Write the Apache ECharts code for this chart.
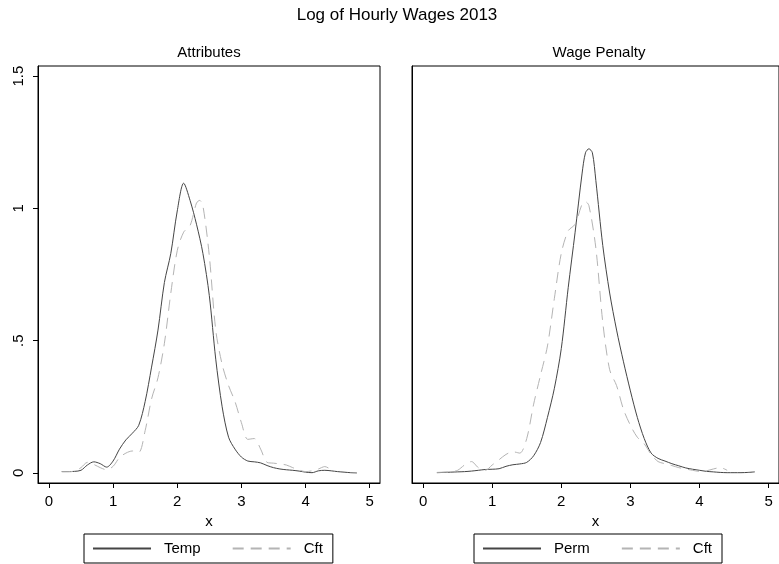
<!DOCTYPE html>
<html>
<head>
<meta charset="utf-8">
<script src="https://cdn.jsdelivr.net/npm/echarts@6/dist/echarts.min.js"></script>
<style>
  html, body { margin: 0; padding: 0; background: #fff; }
  #chart { width: 779px; height: 564px; }
</style>
</head>
<body>
<div id="chart"></div>
<script>
// Kernel density estimates of log hourly wages, 2013

// Left panel: Attributes
const tempX = [0.2,0.3,0.4,0.5,0.6,0.7,0.8,0.9,1.0,1.1,1.2,1.3,1.4,1.5,1.6,1.7,1.8,1.9,2.0,2.1,2.2,2.3,2.4,2.5,2.6,2.7,2.8,2.9,3.0,3.1,3.2,3.3,3.4,3.5,3.6,3.7,3.8,3.9,4.0,4.1,4.2,4.3,4.4,4.5,4.6,4.7,4.8];
const tempY = [0.005,0.005,0.006,0.010,0.030,0.042,0.035,0.022,0.045,0.090,0.125,0.150,0.180,0.270,0.400,0.540,0.720,0.830,0.990,1.095,1.030,0.940,0.830,0.670,0.430,0.250,0.135,0.090,0.060,0.045,0.042,0.038,0.028,0.020,0.015,0.012,0.010,0.007,0.003,0.001,0.008,0.010,0.008,0.005,0.003,0.001,0.000];

const cftLeftX = [0.2,0.3,0.4,0.5,0.6,0.7,0.8,0.9,1.0,1.1,1.2,1.3,1.4,1.5,1.6,1.7,1.8,1.9,2.0,2.1,2.2,2.3,2.35,2.4,2.5,2.6,2.7,2.8,2.9,3.0,3.1,3.2,3.3,3.4,3.5,3.6,3.7,3.8,3.9,4.0,4.1,4.2,4.3,4.4];
const cftLeftY = [0.005,0.005,0.007,0.020,0.040,0.032,0.020,0.012,0.025,0.058,0.075,0.083,0.078,0.160,0.280,0.360,0.490,0.680,0.840,0.910,0.935,1.020,1.030,1.010,0.820,0.540,0.410,0.330,0.270,0.190,0.127,0.130,0.090,0.040,0.037,0.034,0.030,0.020,0.011,0.005,0.008,0.015,0.024,0.012];

// Right panel: Wage Penalty
const permX = [0.2,0.3,0.4,0.5,0.6,0.7,0.8,0.9,1.0,1.1,1.2,1.3,1.4,1.5,1.6,1.7,1.8,1.9,2.0,2.1,2.2,2.3,2.35,2.4,2.45,2.5,2.6,2.7,2.8,2.9,3.0,3.1,3.2,3.3,3.4,3.5,3.6,3.7,3.8,3.9,4.0,4.1,4.2,4.3,4.4,4.5,4.6,4.7,4.8];
const permY = [0.001,0.002,0.003,0.004,0.005,0.007,0.010,0.013,0.014,0.016,0.025,0.031,0.034,0.040,0.065,0.115,0.210,0.320,0.470,0.700,0.910,1.130,1.210,1.225,1.210,1.105,0.860,0.680,0.540,0.420,0.310,0.210,0.130,0.075,0.055,0.045,0.035,0.027,0.019,0.014,0.010,0.006,0.004,0.002,0.001,0.001,0.001,0.002,0.004];

const cftRightX = [0.2,0.3,0.4,0.5,0.6,0.7,0.8,0.9,1.0,1.1,1.2,1.3,1.4,1.5,1.6,1.7,1.8,1.9,2.0,2.1,2.2,2.3,2.35,2.4,2.5,2.6,2.7,2.8,2.9,3.0,3.1,3.2,3.3,3.4,3.5,3.6,3.7,3.8,3.9,4.0,4.1,4.2,4.3,4.4];
const cftRightY = [0.002,0.003,0.004,0.010,0.030,0.043,0.020,0.010,0.030,0.050,0.070,0.080,0.075,0.130,0.260,0.370,0.480,0.660,0.830,0.915,0.940,1.015,1.025,1.010,0.850,0.570,0.390,0.330,0.240,0.180,0.135,0.110,0.070,0.043,0.035,0.028,0.020,0.015,0.010,0.006,0.008,0.015,0.020,0.010];

// Axis ticks and labels
const xTicks = [0, 1, 2, 3, 4, 5];
const yTicks = [0, 0.5, 1, 1.5];
const yTickLabels = ['0', '.5', '1', '1.5'];

const FONT = 'Liberation Sans, Arial, sans-serif';
const SOLID = '#454545';
const DASHED = '#b4b4b4';

function pairs(xs, ys) { return xs.map((x, i) => [x, ys[i]]); }

function xAxisFor(gridIndex, min, max) {
  return {
    type: 'value', gridIndex, min, max, name: 'x',
    nameLocation: 'middle', nameGap: 30,
    nameTextStyle: { color: '#000', fontFamily: FONT, fontSize: 15 },
    splitLine: { show: false },
    axisLine: { show: true, onZero: false, lineStyle: { color: '#000', width: 1 } },
    axisTick: { show: true, length: 5, customValues: xTicks, lineStyle: { color: '#000' } },
    axisLabel: { customValues: xTicks, color: '#000', fontFamily: FONT, fontSize: 15, margin: 11 }
  };
}

function yAxisFor(gridIndex, showLabels) {
  return {
    type: 'value', gridIndex, min: -0.038, max: 1.538,
    splitLine: { show: false },
    axisLine: { show: true, onZero: false, lineStyle: { color: '#000', width: 1 } },
    axisTick: { show: showLabels, length: 5, customValues: yTicks, lineStyle: { color: '#000' } },
    axisLabel: {
      show: showLabels, customValues: yTicks, rotate: 90, margin: 12,
      color: '#000', fontFamily: FONT, fontSize: 15,
      formatter: v => yTickLabels[yTicks.indexOf(v)]
    }
  };
}

function lineSeries(name, data, idx, dashed) {
  return {
    type: 'line', name, data, xAxisIndex: idx, yAxisIndex: idx,
    showSymbol: false, symbol: 'none', smooth: 0.3,
    lineStyle: { color: dashed ? DASHED : SOLID, width: 1, type: dashed ? [11, 7] : 'solid' },
    itemStyle: { color: dashed ? DASHED : SOLID },
    emphasis: { disabled: true }, animation: false
  };
}

function legendBox(left, names) {
  return {
    show: true, left, top: 534, orient: 'horizontal',
    data: names,
    itemWidth: 58, itemHeight: 14, itemGap: 31,
    padding: [7, 10, 7, 8],
    borderColor: '#000', borderWidth: 1,
    itemStyle: { opacity: 0 },
    textStyle: { color: '#000', fontFamily: FONT, fontSize: 15, padding: [0, 0, 0, 8] }
  };
}

const chart = echarts.init(document.getElementById('chart'), null, { renderer: 'canvas' });
chart.setOption({
  backgroundColor: '#fff',
  animation: false,
  title: [
    { text: 'Log of Hourly Wages 2013', left: 397, top: 7, textAlign: 'center', padding: 0,
      textStyle: { fontFamily: FONT, fontSize: 17, fontWeight: 'normal', color: '#000' } },
    { text: 'Attributes', left: 209, top: 45, textAlign: 'center', padding: 0,
      textStyle: { fontFamily: FONT, fontSize: 15, fontWeight: 'normal', color: '#000' } },
    { text: 'Wage Penalty', left: 599, top: 45, textAlign: 'center', padding: 0,
      textStyle: { fontFamily: FONT, fontSize: 15, fontWeight: 'normal', color: '#000' } }
  ],
  grid: [
    { left: 38, top: 66, width: 342, height: 417, show: true, borderColor: '#000', borderWidth: 1, containLabel: false },
    { left: 412, top: 66, width: 374, height: 417, show: true, borderColor: '#000', borderWidth: 1, containLabel: false }
  ],
  xAxis: [xAxisFor(0, -0.17, 5.16), xAxisFor(1, -0.16, 5.15)],
  yAxis: [yAxisFor(0, true), yAxisFor(1, false)],
  legend: [legendBox(84, ['Temp', 'Cft']), legendBox(474, ['Perm', 'Cft'])],
  series: [
    lineSeries('Temp', pairs(tempX, tempY), 0, false),
    lineSeries('Cft', pairs(cftLeftX, cftLeftY), 0, true),
    lineSeries('Perm', pairs(permX, permY), 1, false),
    lineSeries('Cft', pairs(cftRightX, cftRightY), 1, true)
  ]
});
</script>
</body>
</html>
